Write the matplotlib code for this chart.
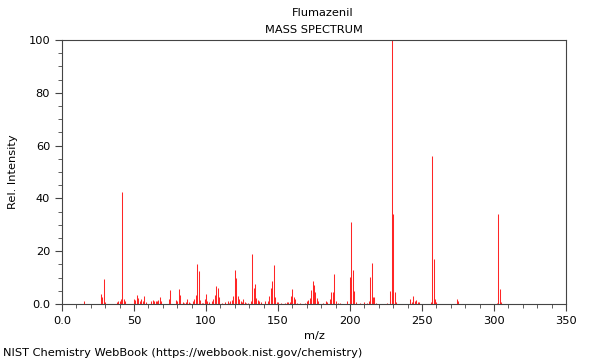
import matplotlib
matplotlib.use('Agg')
import matplotlib.pyplot as plt
from matplotlib.ticker import MultipleLocator, FuncFormatter

# Flumazenil EI mass spectrum
mz = [15, 27, 28, 29, 30, 38, 39, 40, 41, 42, 43, 44, 50, 51, 52, 53, 54, 55, 56, 57, 58,
      62, 63, 64, 65, 66, 67, 68, 69, 74, 75, 79, 80, 81, 82, 84, 85, 86, 87, 88, 89,
      91, 92, 93, 94, 95, 96, 97, 98, 99, 100, 101, 102, 104, 105, 106, 107, 108, 109,
      111, 113, 115, 116, 117, 118, 119, 120, 121, 122, 123, 124, 125, 126, 127,
      128, 129, 131, 132, 133, 134, 135, 136, 137, 138, 141, 143,
      144, 145, 146, 147, 148, 149, 150, 152, 155, 156, 157, 158, 159, 160, 161, 162, 163,
      165, 169, 170, 171, 172, 173, 174, 175, 176, 177, 178, 181, 183, 184, 186, 187, 188,
      189, 190, 192, 193, 198, 200, 201, 202, 203, 204, 207, 210, 212, 213, 214, 215, 216,
      217, 218, 226, 228, 229, 230, 231, 232, 242, 243, 244, 245, 246, 247, 248,
      256, 257, 258, 259, 260, 274, 275, 302, 303, 304, 305]
intensity = [1.1, 3.7, 2.8, 9.6, 0.6, 0.8, 1.0, 1.0, 1.8, 42.4, 1.8, 1.1, 2.0, 1.5, 3.4, 2.3, 1.3, 1.8, 1.0, 3.0, 0.8,
             1.0, 1.5, 1.0, 1.3, 1.0, 1.5, 2.5, 1.0, 1.8, 5.3, 1.5, 1.0, 5.8, 3.4, 0.6, 0.5, 0.8, 1.8, 0.8, 0.5,
             1.0, 1.8, 3.4, 15.2, 12.5, 1.5, 0.5, 0.5, 1.8, 3.7, 1.2, 0.8, 1.2, 2.0, 3.4, 7.0, 6.2, 2.5,
             0.5, 0.8, 1.3, 0.5, 1.0, 1.5, 2.9, 12.8, 10.0, 3.0, 1.8, 1.0, 0.8, 1.8, 0.7,
             0.5, 0.5, 1.0, 18.8, 6.2, 7.4, 2.2, 1.5, 1.0, 0.8, 1.0, 1.0,
             3.0, 6.0, 8.7, 14.6, 2.7, 0.8, 0.8, 0.5, 0.5, 0.7, 0.7, 0.8, 3.0, 5.8, 2.8, 1.8, 0.5,
             0.5, 0.5, 1.2, 1.5, 2.2, 5.3, 8.7, 7.2, 4.7, 2.2, 1.0, 0.5, 1.0, 0.6, 1.8, 4.7, 4.7,
             11.2, 1.3, 0.5, 0.5, 1.0, 10.2, 31.0, 12.9, 5.0, 0.7, 0.5, 0.7, 0.5, 1.0, 10.3, 15.6, 2.5,
             2.5, 0.5, 0.5, 5.0, 100.0, 34.0, 4.7, 0.7, 1.8, 0.8, 3.2, 1.0, 1.5, 0.8, 0.7,
             0.7, 56.0, 17.0, 1.8, 0.6, 1.8, 1.0, 0.5, 34.0, 5.8, 0.6]

fig = plt.figure(figsize=(6, 3.6), dpi=100)
ax = fig.add_axes([62 / 600, 1 - 304 / 360, 504 / 600, 264 / 360])

ax.vlines(mz, 0, intensity, color='red', linewidth=0.75, alpha=0.85)

ax.set_xlim(0, 350)
ax.set_ylim(0, 100)
ax.xaxis.set_major_locator(MultipleLocator(50))
ax.xaxis.set_minor_locator(MultipleLocator(10))
ax.yaxis.set_major_locator(MultipleLocator(20))
ax.yaxis.set_minor_locator(MultipleLocator(5))
fmt = FuncFormatter(lambda v, p: '0.0' if v == 0 else '%d' % v)
ax.xaxis.set_major_formatter(fmt)
ax.yaxis.set_major_formatter(fmt)
ax.tick_params(which='major', length=5, labelsize=8.2, color='#444444')
ax.tick_params(which='minor', length=3, color='#444444')
for s in ax.spines.values():
    s.set_color('#444444')
    s.set_linewidth(0.8)

ax.set_xlabel('m/z', fontsize=8.2)
ax.set_ylabel('Rel. Intensity', fontsize=8.2, labelpad=7.5)
fig.text(323 / 600, 1 - 13 / 360, 'Flumazenil', ha='center', va='center', fontsize=8.2)
fig.text(314 / 600, 1 - 30 / 360, 'MASS SPECTRUM', ha='center', va='center', fontsize=8.2)
fig.text(3 / 600, 1 - 353 / 360, 'NIST Chemistry WebBook (https://webbook.nist.gov/chemistry)',
         ha='left', va='center', fontsize=8.2)

fig.savefig('out.png', dpi=100)
